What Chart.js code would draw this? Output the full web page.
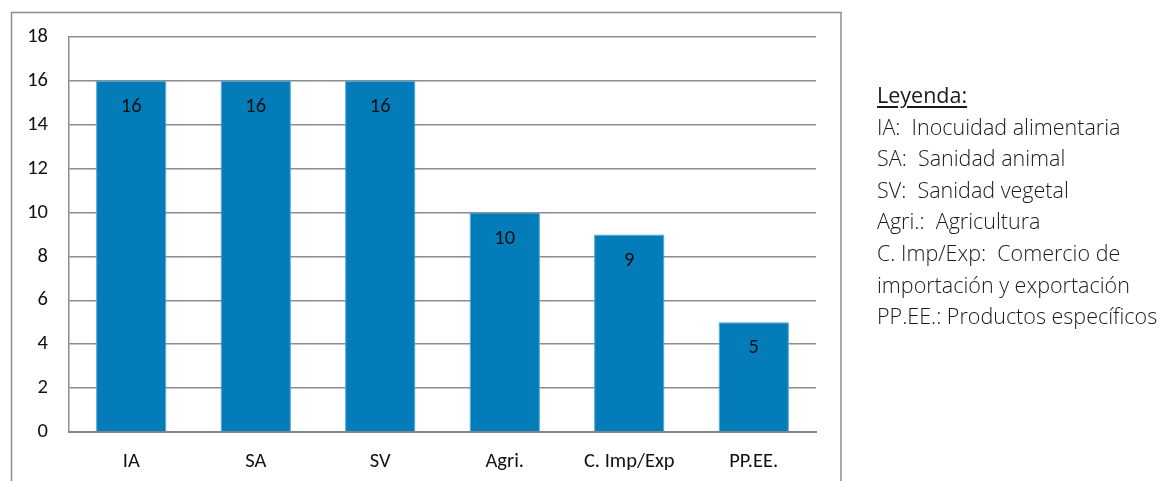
<!DOCTYPE html>
<html>
<head>
<meta charset="utf-8">
<script src="https://cdn.jsdelivr.net/npm/chart.js@4.4.1/dist/chart.umd.min.js"></script>
<style>
  body { margin: 0; background: #fff; }
  #wrap { position: relative; width: 1168px; height: 481px; overflow: hidden; }
  #legend {
    position: absolute; left: 877px; top: 79px;
    font-family: "Open Sans", sans-serif; font-weight: 300; font-size: 21.5px;
    line-height: 31.6px; color: #1a1a1a; white-space: nowrap;
  }
  #legend u { font-weight: 400; text-underline-offset: 3px; }
</style>
</head>
<body>
<div id="wrap">
  <canvas id="chart" width="1168" height="481"></canvas>
  <div id="legend">
    <div><u>Leyenda:</u></div>
    <div>IA:&nbsp; Inocuidad alimentaria</div>
    <div>SA:&nbsp; Sanidad animal</div>
    <div>SV:&nbsp; Sanidad vegetal</div>
    <div>Agri.:&nbsp; Agricultura</div>
    <div>C. Imp/Exp:&nbsp; Comercio de</div>
    <div>importación y exportación</div>
    <div>PP.EE.: Productos específicos</div>
  </div>
</div>
<script>
// datos del grafico
const categorias = ["IA", "SA", "SV", "Agri.", "C. Imp/Exp", "PP.EE."];
const valores = [16, 16, 16, 10, 9, 5];
const yTicks = [0, 2, 4, 6, 8, 10, 12, 14, 16, 18];

const fontAxis = { family: "Carlito, Calibri, Lato, sans-serif", size: 20.5 };

// marco exterior
const marco = {
  id: "marco",
  beforeDraw(chart) {
    const ctx = chart.ctx;
    ctx.save();
    ctx.strokeStyle = "#8c8c8c";
    ctx.lineWidth = 1.5;
    ctx.strokeRect(11.5, 12.5, 829.5, 500);
    ctx.restore();
  }
};

// etiquetas dentro de las barras
const etiquetas = {
  id: "etiquetas",
  afterDatasetsDraw(chart) {
    const ctx = chart.ctx;
    const meta = chart.getDatasetMeta(0);
    ctx.save();
    ctx.font = fontAxis.size + "px " + fontAxis.family;
    ctx.fillStyle = "#111";
    ctx.textAlign = "center";
    ctx.textBaseline = "middle";
    meta.data.forEach((bar, i) => {
      ctx.fillText(valores[i], bar.x, bar.y + 26);
    });
    ctx.restore();
  }
};

new Chart(document.getElementById("chart"), {
  type: "bar",
  data: {
    labels: categorias,
    datasets: [{
      data: valores,
      backgroundColor: "#047cba",
      borderColor: "#4aa6d6",
      borderWidth: 1,
      categoryPercentage: 1,
      barPercentage: 0.565
    }]
  },
  options: {
    responsive: false,
    animation: false,
    layout: { padding: { left: 13, right: 352, top: 37, bottom: 0 } },
    plugins: {
      legend: { display: false },
      tooltip: { enabled: false }
    },
    scales: {
      x: {
        grid: { display: false, drawTicks: false },
        border: { color: "#868686", width: 2 },
        ticks: { color: "#111", font: fontAxis, padding: 18, maxRotation: 0 },
        afterFit(s) { s.height = 49; }
      },
      y: {
        min: 0, max: 18,
        afterBuildTicks(s) { s.ticks = yTicks.map(v => ({ value: v })); },
        grid: { color: "#8c8c8c", lineWidth: 1.5, drawTicks: false },
        border: { color: "#8c8c8c", width: 1.5 },
        ticks: { color: "#111", font: fontAxis, padding: 21 },
        afterFit(s) { s.width = 56; }
      }
    }
  },
  plugins: [marco, etiquetas]
});
</script>
</body>
</html>
